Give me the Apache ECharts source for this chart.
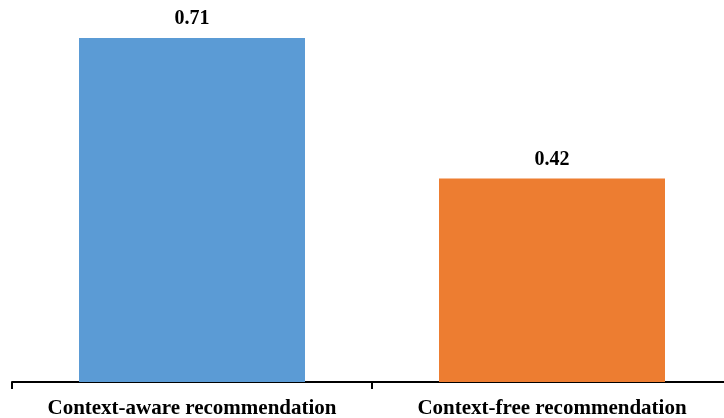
<!DOCTYPE html>
<html>
<head>
<meta charset="utf-8">
<script src="https://cdn.jsdelivr.net/npm/echarts@6/dist/echarts.min.js"></script>
<style>
html,body{margin:0;padding:0;background:#fff;}
#ChartMain{width:724px;height:418px;}
</style>
</head>
<body>
<div id="ChartMain"></div>
<script>
var categories = ['Context-aware recommendation', 'Context-free recommendation'];
var values = [0.71, 0.42];
var colors = ['#5b9bd5', '#ed7d31'];

var chart = echarts.init(document.getElementById('ChartMain'));
var option = {
    animation: false,
    grid: {left: 12, width: 720, top: 38, bottom: 36, containLabel: false, outerBoundsMode: 'none'},
    xAxis: {
        type: 'category',
        data: categories,
        axisLine: {lineStyle: {color: '#000', width: 2}},
        axisTick: {show: true, interval: 0, length: 7, lineStyle: {color: '#000', width: 2}},
        axisLabel: {
            interval: 0,
            hideOverlap: false,
            margin: 16,
            color: '#000',
            fontFamily: 'Liberation Serif',
            fontWeight: 'bold',
            fontSize: 21
        }
    },
    yAxis: {
        type: 'value',
        min: 0,
        max: 0.71,
        show: false
    },
    series: [{
        type: 'bar',
        barWidth: 226,
        data: values.map(function (v, i) {
            return {value: v, itemStyle: {color: colors[i]}};
        }),
        label: {
            show: true,
            position: 'top',
            distance: 9,
            color: '#000',
            fontFamily: 'Liberation Serif',
            fontWeight: 'bold',
            fontSize: 20
        }
    }]
};
chart.setOption(option);
</script>
</body>
</html>
